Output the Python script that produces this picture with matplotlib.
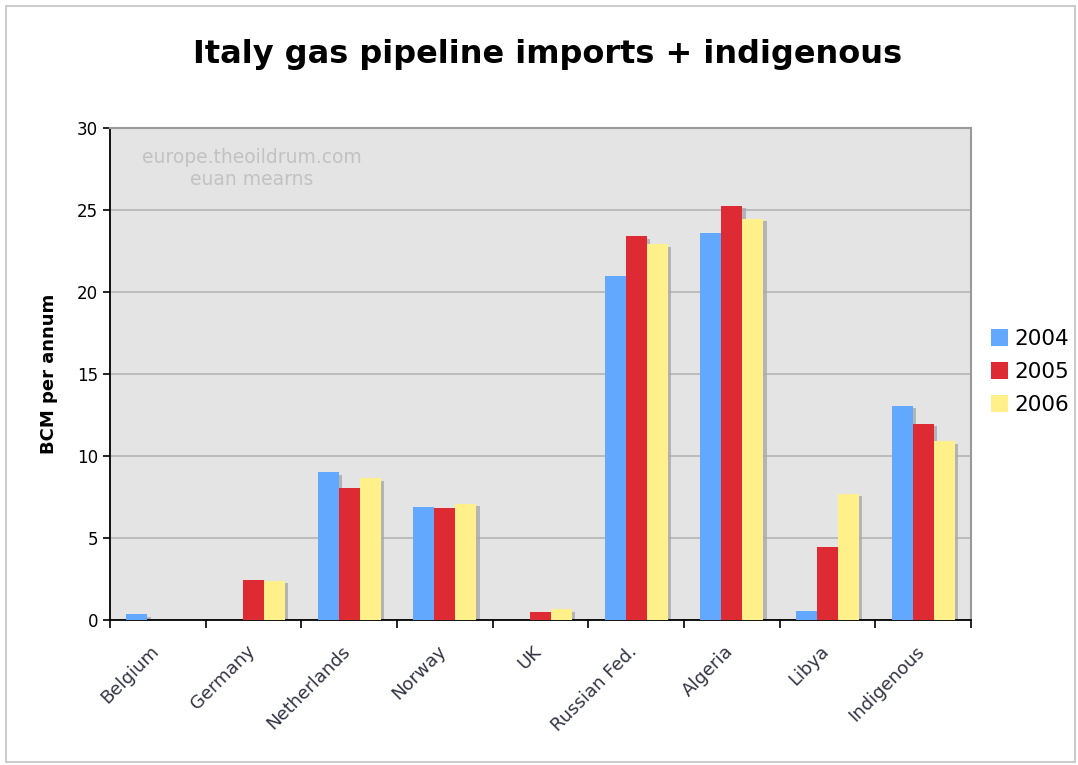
import numpy as np
import matplotlib
matplotlib.use("Agg")
import matplotlib.pyplot as plt
import matplotlib.transforms as mtransforms
from matplotlib.patches import Patch, Rectangle

OUTPUT_PATH = "out.png"

countries = ["Belgium", "Germany", "Netherlands", "Norway", "UK",
             "Russian Fed.", "Algeria", "Libya", "Indigenous"]
years = ["2004", "2005", "2006"]
bcm_2004 = [0.35, 0.0, 9.0, 6.9, 0.0, 21.0, 23.6, 0.55, 13.05]
bcm_2005 = [0.0, 2.45, 8.05, 6.8, 0.5, 23.4, 25.25, 4.45, 11.95]
bcm_2006 = [0.0, 2.4, 8.65, 7.1, 0.65, 22.9, 24.45, 7.7, 10.9]
colors = ["#62a8ff", "#dd2a33", "#fff08a"]


def main():
    fig = plt.figure(figsize=(10.78, 7.65), dpi=100)
    fig.patches.append(Rectangle((6 / 1078, 3 / 765), 1069 / 1078, 756 / 765,
                                 transform=fig.transFigure, fill=False,
                                 edgecolor="#cccccc", lw=1.5))

    ax = fig.add_axes([110 / 1078, 145 / 765, 861 / 1078, 492 / 765])
    ax.set_facecolor("#e4e4e4")

    x = np.arange(len(countries))
    width = 0.22
    series = [bcm_2004, bcm_2005, bcm_2006]
    for i, (vals, col) in enumerate(zip(series, colors)):
        pos = x + (i - 1) * width
        vals = np.array(vals)
        # drop shadow
        ax.bar(pos + 0.035, np.clip(vals - 0.15, 0, None), width,
               color="#a8a8a8", alpha=0.8, zorder=2)
        ax.bar(pos, vals, width, color=col, zorder=3)

    ax.set_xlim(-0.5, len(countries) - 0.5)
    ax.set_ylim(0, 30)
    ax.set_yticks(range(0, 31, 5))
    ax.yaxis.grid(True, color="#b4b4b4", lw=1.2, zorder=1)
    ax.set_axisbelow(True)

    ax.set_xticks(np.arange(len(countries) + 1) - 0.5)
    ax.set_xticklabels([])
    ax.set_xticks(x, minor=True)
    ax.set_xticklabels(countries, minor=True, rotation=45, ha="right",
                       va="top", rotation_mode="anchor", fontsize=13,
                       color="#333344")
    ax.tick_params(axis="x", which="minor", length=0, pad=16)
    ax.tick_params(axis="x", which="major", length=6, width=1.2, direction="out")
    ax.tick_params(axis="y", length=5, width=1.2, direction="out",
                   labelsize=12, colors="black")
    shift = mtransforms.ScaledTranslation(-8 / 100, 0, fig.dpi_scale_trans)
    for lbl in ax.get_xticklabels(minor=True):
        lbl.set_transform(lbl.get_transform() + shift)

    for s in ["left", "bottom"]:
        ax.spines[s].set_color("black")
        ax.spines[s].set_linewidth(1.3)
    for s in ["top", "right"]:
        ax.spines[s].set_color("#999999")
        ax.spines[s].set_linewidth(1.5)

    ax.set_ylabel("BCM per annum", fontsize=13, fontweight="bold", labelpad=14)

    ax.text(0.165, 0.96, "europe.theoildrum.com\neuan mearns",
            transform=ax.transAxes, ha="center", va="top", fontsize=13.5,
            color="#c2c2c2", linespacing=1.2)

    fig.text(548 / 1078, 1 - 55 / 765, "Italy gas pipeline imports + indigenous",
             ha="center", va="center", fontsize=23, fontweight="bold")

    handles = [Patch(facecolor=c, edgecolor="none") for c in colors]
    fig.legend(handles, years, loc="center left",
               bbox_to_anchor=(976 / 1078, 1 - 372 / 765), frameon=False,
               fontsize=15.5, handlelength=0.8, handleheight=0.8,
               handletextpad=0.3, labelspacing=0.6, borderpad=0.2)

    fig.savefig(OUTPUT_PATH, dpi=100)
    plt.close(fig)


if __name__ == "__main__":
    main()
